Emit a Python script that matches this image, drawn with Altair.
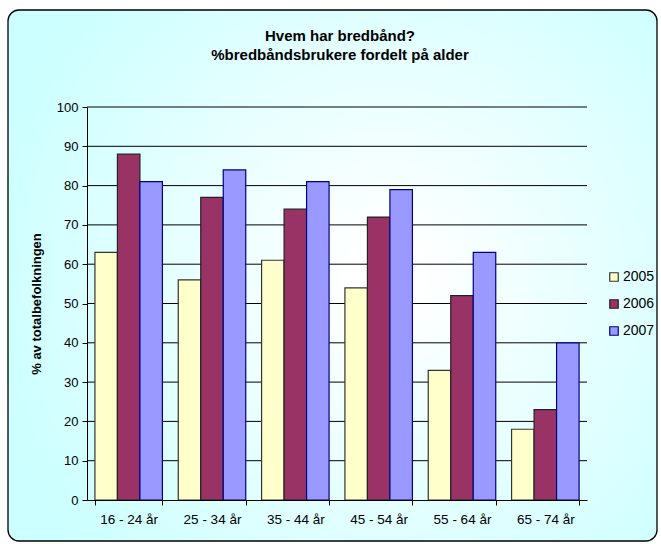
import altair as alt
import pandas as pd

ages = ["16 - 24 år", "25 - 34 år", "35 - 44 år", "45 - 54 år", "55 - 64 år", "65 - 74 år"]
years = ["2005", "2006", "2007"]
v2005 = [63, 56, 61, 54, 33, 18]
v2006 = [88, 77, 74, 72, 52, 23]
v2007 = [81, 84, 81, 79, 63, 40]
yticks = list(range(0, 101, 10))

rows = []
for i, a in enumerate(ages):
    for y, vals in zip(years, [v2005, v2006, v2007]):
        rows.append({"age": a, "year": y, "value": vals[i]})
df = pd.DataFrame(rows)

FONT = "Liberation Sans"

bg = alt.Chart(pd.DataFrame({"a": [0]})).mark_rect(
    cornerRadius=11,
    stroke="black",
    strokeWidth=1.3,
    fill=alt.Gradient(
        gradient="radial",
        stops=[alt.GradientStop(color="#ffffff", offset=0),
               alt.GradientStop(color="#ffffff", offset=0.08),
               alt.GradientStop(color="#ccffff", offset=1)],
        x1=0.58, y1=0.5, r1=0, x2=0.58, y2=0.5, r2=0.62,
    ),
).encode(
    x=alt.value(-79), x2=alt.value(570),
    y=alt.value(-97), y2=alt.value(434),
)

grid = alt.Chart(pd.DataFrame({"t": yticks[1:]})).mark_rule(color="black", strokeWidth=1).encode(
    y=alt.Y("t:Q", scale=alt.Scale(domain=[0, 100], nice=False), axis=None),
    x=alt.value(0), x2=alt.value(500),
)

bars = alt.Chart(df).mark_bar().encode(
    x=alt.X("age:N", sort=ages, title=None,
            scale=alt.Scale(paddingInner=0.19, paddingOuter=0.095),
            axis=alt.Axis(labelAngle=0, tickBand="extent", labelPadding=7, zindex=1,
                          tickSize=5, domainColor="black", tickColor="black",
                          labelFontSize=13.5, labelFont=FONT, labelColor="black")),
    xOffset=alt.XOffset("year:N", sort=years, scale=alt.Scale(paddingInner=0, paddingOuter=0)),
    y=alt.Y("value:Q", title="% av totalbefolkningen",
            scale=alt.Scale(domain=[0, 100], nice=False),
            axis=alt.Axis(values=yticks, grid=False, zindex=1,
                          domainColor="black", tickColor="black", tickSize=5,
                          labelPadding=4, labelFontSize=13, labelFont=FONT, labelColor="black",
                          titleFont=FONT, titleFontSize=13, titleFontWeight="bold",
                          titleColor="black", titlePadding=13)),
    color=alt.Color("year:N", sort=years,
                    scale=alt.Scale(domain=years, range=["#ffffcc", "#993366", "#9999ff"]),
                    legend=alt.Legend(title=None, orient="none", legendX=520, legendY=163,
                                      symbolType="square", symbolSize=72, symbolStrokeWidth=1.5,
                                      labelFontSize=14, labelFont=FONT, labelColor="black",
                                      rowPadding=13, labelOffset=2, zindex=1)),
    stroke=alt.Stroke("year:N", sort=years,
                      scale=alt.Scale(domain=years, range=["#333333", "#222222", "#000080"]),
                      legend=alt.Legend(title=None, orient="none", legendX=520, legendY=163)),
    strokeWidth=alt.StrokeWidth("year:N", sort=years,
                                scale=alt.Scale(domain=years, range=[1.2, 1.2, 2.2]),
                                legend=None),
)

chart = alt.layer(bg, grid, bars).resolve_axis(y="independent").properties(
    width=500, height=393,
    title=alt.Title(["Hvem har bredbånd?", "%bredbåndsbrukere fordelt på alder"],
                    font=FONT, fontSize=15, fontWeight="bold", color="black",
                    anchor="middle", frame="group", lineHeight=19, offset=-54, dx=3, zindex=1),
    autosize=alt.AutoSizeParams(type="none"),
    padding={"left": 87, "top": 107, "right": 74, "bottom": 44},
).configure_view(stroke=None).configure(background="white")

chart.save("out.html", embed_options={"renderer": "svg", "actions": False})
